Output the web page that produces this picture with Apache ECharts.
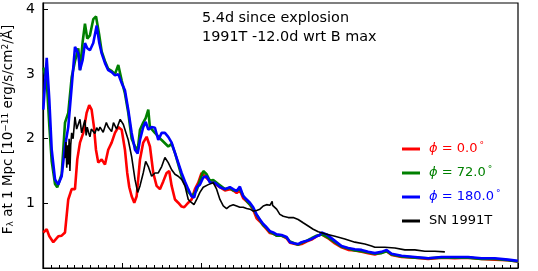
<!DOCTYPE html>
<html><head><meta charset="utf-8">
<script src="https://cdn.jsdelivr.net/npm/echarts@6/dist/echarts.min.js"></script>
<style>html,body{margin:0;padding:0;background:#fff}#c{width:538px;height:271px}</style>
</head><body><div id="c"></div>
<script>
// Wavelength (Angstrom) vs flux (1e-11 erg/s/cm^2/A)
const seriesNames = ['ϕ = 0.0°', 'ϕ = 72.0°', 'ϕ = 180.0°', 'SN 1991T'];
const xTicks = {min: 3000, max: 9000, step: 1000};
const yTicks = {min: 0, max: 4.1, step: 1};
const annotationLines = ['5.4d since explosion', '1991T -12.0d wrt B max'];

const phi0 = [[3004,0.55],[3047,0.6],[3080,0.49],[3130,0.4],[3193,0.49],[3236,0.5],[3278,0.55],[3319,1.06],[3362,1.22],[3404,1.22],[3433,1.68],[3467,1.94],[3509,2.09],[3551,2.4],[3584,2.52],[3614,2.45],[3644,2.18],[3669,1.83],[3698,1.63],[3741,1.68],[3783,1.6],[3824,1.83],[3867,1.94],[3909,2.09],[3951,2.18],[3994,2.14],[4035,1.83],[4064,1.47],[4090,1.25],[4120,1.11],[4153,1.01],[4183,1.11],[4225,1.68],[4266,1.94],[4309,2.03],[4351,1.88],[4393,1.47],[4435,1.27],[4477,1.22],[4519,1.34],[4561,1.47],[4594,1.5],[4625,1.27],[4667,1.06],[4708,1.01],[4751,0.95],[4784,0.94],[4835,1.01],[4877,1.06],[4919,1.22],[4961,1.32],[5003,1.47],[5045,1.42],[5109,1.34],[5150,1.32],[5172,1.33],[5235,1.25],[5298,1.2],[5361,1.22],[5403,1.2],[5446,1.16],[5487,1.2],[5529,1.08],[5572,1.03],[5614,0.98],[5655,0.9],[5698,0.77],[5740,0.72],[5782,0.66],[5824,0.6],[5866,0.54],[5908,0.53],[5951,0.5],[6014,0.5],[6077,0.46],[6119,0.39],[6182,0.37],[6223,0.36],[6266,0.37],[6329,0.41],[6393,0.44],[6456,0.49],[6519,0.52],[6602,0.46],[6687,0.38],[6771,0.32],[6855,0.28],[6939,0.27],[7024,0.25],[7107,0.23],[7192,0.21],[7276,0.24],[7340,0.26],[7403,0.2],[7529,0.17],[7697,0.16],[7865,0.14],[8034,0.16],[8202,0.15],[8370,0.16],[8539,0.14],[8707,0.13],[8875,0.12],[8997,0.1]];

const phi72 = [[3004,3.1],[3047,2.9],[3080,2.2],[3110,1.65],[3152,1.3],[3180,1.25],[3236,1.45],[3278,2.25],[3319,2.4],[3362,2.95],[3404,3.2],[3446,3.4],[3467,3.06],[3501,3.5],[3530,3.78],[3559,3.55],[3593,3.6],[3635,3.85],[3670,3.89],[3711,3.6],[3741,3.35],[3783,3.2],[3824,3.08],[3867,3.05],[3909,3.0],[3951,3.14],[3994,2.9],[4035,2.7],[4077,2.4],[4120,2.0],[4162,1.88],[4196,1.82],[4225,2.14],[4266,2.25],[4297,2.32],[4330,2.45],[4350,2.18],[4414,2.09],[4499,1.98],[4582,1.88],[4625,1.92],[4650,1.94],[4667,1.78],[4751,1.42],[4835,1.18],[4880,1.11],[4941,1.2],[4982,1.35],[5024,1.5],[5067,1.45],[5109,1.35],[5150,1.36],[5172,1.35],[5235,1.28],[5298,1.22],[5361,1.24],[5403,1.2],[5446,1.2],[5487,1.22],[5529,1.12],[5572,1.04],[5614,0.98],[5655,0.92],[5698,0.82],[5740,0.74],[5782,0.66],[5824,0.62],[5866,0.56],[5908,0.53],[5951,0.5],[6014,0.5],[6077,0.47],[6119,0.41],[6182,0.38],[6223,0.36],[6266,0.39],[6329,0.42],[6393,0.46],[6456,0.5],[6519,0.52],[6602,0.47],[6687,0.4],[6771,0.33],[6855,0.3],[6939,0.27],[7024,0.26],[7107,0.24],[7192,0.22],[7276,0.23],[7340,0.26],[7403,0.21],[7529,0.18],[7697,0.16],[7865,0.15],[8034,0.16],[8202,0.16],[8370,0.16],[8539,0.14],[8707,0.14],[8875,0.12],[8997,0.1]];

const phi180 = [[3004,2.45],[3047,3.25],[3080,2.6],[3110,1.83],[3152,1.37],[3193,1.29],[3236,1.42],[3278,1.88],[3319,2.18],[3362,2.8],[3404,3.42],[3446,3.32],[3467,3.06],[3501,3.22],[3530,3.48],[3559,3.4],[3593,3.37],[3635,3.48],[3678,3.75],[3711,3.48],[3741,3.32],[3783,3.17],[3824,3.06],[3867,3.03],[3909,2.98],[3951,3.0],[3994,2.86],[4035,2.75],[4077,2.45],[4120,2.09],[4162,1.83],[4196,1.77],[4225,1.98],[4266,2.18],[4297,2.26],[4330,2.14],[4372,2.18],[4414,2.17],[4456,1.98],[4499,2.09],[4540,2.09],[4582,2.03],[4625,1.94],[4667,1.78],[4708,1.63],[4751,1.47],[4793,1.34],[4835,1.22],[4877,1.11],[4910,1.09],[4941,1.25],[4982,1.29],[5024,1.4],[5067,1.42],[5109,1.32],[5172,1.32],[5235,1.25],[5298,1.22],[5361,1.25],[5403,1.22],[5446,1.19],[5487,1.26],[5529,1.11],[5572,1.06],[5614,1.01],[5655,0.94],[5698,0.83],[5740,0.75],[5782,0.68],[5824,0.63],[5866,0.57],[5908,0.55],[5951,0.52],[6014,0.51],[6077,0.48],[6119,0.4],[6182,0.38],[6223,0.37],[6266,0.4],[6329,0.42],[6393,0.45],[6456,0.49],[6497,0.51],[6519,0.55],[6582,0.52],[6602,0.49],[6687,0.42],[6771,0.34],[6855,0.31],[6939,0.29],[7024,0.28],[7107,0.25],[7192,0.23],[7276,0.25],[7340,0.28],[7403,0.22],[7529,0.19],[7697,0.17],[7865,0.15],[8034,0.17],[8202,0.17],[8370,0.17],[8539,0.15],[8707,0.15],[8875,0.13],[8997,0.11]];

const sn1991T = [[3278,1.7],[3290,1.95],[3300,1.55],[3312,1.9],[3319,1.6],[3330,2.0],[3340,1.5],[3350,1.9],[3362,2.09],[3380,2.0],[3404,2.34],[3425,2.15],[3446,2.18],[3467,2.3],[3488,2.09],[3510,2.2],[3530,2.29],[3545,2.05],[3559,2.18],[3575,2.1],[3593,2.03],[3610,2.15],[3635,2.14],[3655,2.08],[3678,2.17],[3700,2.12],[3720,2.18],[3741,2.18],[3760,2.1],[3783,2.11],[3800,2.25],[3824,2.18],[3845,2.2],[3867,2.11],[3890,2.25],[3909,2.26],[3930,2.15],[3951,2.22],[3975,2.3],[3994,2.29],[4015,2.22],[4035,2.24],[4077,1.98],[4120,1.72],[4162,1.37],[4196,1.17],[4225,1.27],[4266,1.47],[4297,1.65],[4330,1.57],[4372,1.42],[4414,1.47],[4456,1.47],[4499,1.57],[4540,1.71],[4582,1.63],[4625,1.52],[4667,1.45],[4708,1.42],[4751,1.37],[4793,1.27],[4835,1.06],[4877,1.01],[4907,0.98],[4941,1.06],[4982,1.17],[5024,1.25],[5088,1.29],[5150,1.32],[5193,1.22],[5235,1.06],[5277,0.96],[5319,0.92],[5361,0.96],[5403,0.98],[5446,0.96],[5487,0.94],[5529,0.94],[5572,0.92],[5614,0.91],[5655,0.88],[5698,0.89],[5740,0.91],[5782,0.96],[5824,0.98],[5866,0.97],[5890,0.99],[5895,1.03],[5900,0.97],[5951,0.91],[5992,0.83],[6035,0.8],[6098,0.78],[6161,0.78],[6223,0.75],[6286,0.7],[6350,0.65],[6413,0.6],[6477,0.56],[6560,0.53],[6687,0.49],[6813,0.45],[6939,0.4],[7065,0.37],[7150,0.34],[7192,0.32],[7318,0.32],[7445,0.31],[7571,0.28],[7697,0.28],[7824,0.26],[7950,0.26],[8076,0.25]];

const colors = ['#ff0000', '#008000', '#0000ff', '#000000'];
const widths = [2.6, 2.6, 2.6, 1.6];
const dataSets = [phi0, phi72, phi180, sn1991T];

const FONT = 'DejaVu Sans';
const chart = echarts.init(document.getElementById('c'), null, {renderer: 'canvas'});

const legendLabels = {
  [seriesNames[0]]: '{it|ϕ} = 0.0{deg|°}',
  [seriesNames[1]]: '{it|ϕ} = 72.0{deg|°}',
  [seriesNames[2]]: '{it|ϕ} = 180.0{deg|°}',
  [seriesNames[3]]: 'SN 1991T'
};

chart.setOption({
  animation: false,
  grid: {left: 43, right: 20, top: 3, bottom: 3, containLabel: false, outerBoundsMode: 'none',
    show: true, borderColor: '#000', borderWidth: 1.2, backgroundColor: 'transparent'},
  xAxis: {
    type: 'value', min: xTicks.min, max: xTicks.max, interval: xTicks.step,
    axisLine: {show: true, lineStyle: {color: '#000', width: 1.2}},
    axisTick: {show: true, inside: true, length: 5, lineStyle: {color: '#000'}},
    minorTick: {show: true, splitNumber: 10, length: 3, lineStyle: {color: '#000'}},
    axisLabel: {show: false},
    splitLine: {show: false}
  },
  yAxis: {
    type: 'value', min: yTicks.min, max: yTicks.max, interval: yTicks.step,
    axisLine: {show: true, lineStyle: {color: '#000', width: 1.2}},
    axisTick: {show: true, inside: true, length: 5, lineStyle: {color: '#000'}},
    axisLabel: {show: true, margin: 8, color: '#000', fontFamily: FONT, fontSize: 14,
      formatter: v => (v === 0 ? '' : String(v))},
    splitLine: {show: false},
    name: 'F{sub|λ} at 1 Mpc [10{sup|−11} erg/s/cm{sup|2}/Å]',
    nameLocation: 'middle', nameGap: 21,
    nameTextStyle: {color: '#000', fontFamily: FONT, fontSize: 13.5, padding: [0, 0, 0, 12],
      rich: {
        sub: {fontSize: 9, fontFamily: FONT, color: '#000', verticalAlign: 'bottom', padding: [5, 0, 0, 0]},
        sup: {fontSize: 9, fontFamily: FONT, color: '#000', verticalAlign: 'top', padding: [0, 0, 5, 0]}
      }}
  },
  legend: {
    orient: 'vertical', left: 397, top: 136, itemWidth: 18, itemHeight: 3, itemGap: 8,
    icon: 'rect',
    data: seriesNames.map((n, i) => ({name: n, textStyle: {color: colors[i]}})),
    formatter: n => legendLabels[n],
    textStyle: {fontFamily: FONT, fontSize: 13, lineHeight: 16, padding: [0, 0, 0, 4],
      rich: {
        it: {fontStyle: 'italic', fontFamily: FONT, fontSize: 13},
        deg: {fontSize: 9, fontFamily: FONT, verticalAlign: 'top', padding: [0, 0, 6, 2]}
      }}
  },
  graphic: [{
    type: 'text', left: 202, top: 9,
    style: {text: annotationLines.join('\n'), font: '14.4px "DejaVu Sans"', fill: '#000', lineHeight: 19}
  }],
  series: dataSets.map((d, i) => ({
    name: seriesNames[i], type: 'line', data: d, showSymbol: false, symbol: 'none',
    lineStyle: {color: colors[i], width: widths[i]}, itemStyle: {color: colors[i]},
    z: 2 + i
  }))
});
</script></body></html>
